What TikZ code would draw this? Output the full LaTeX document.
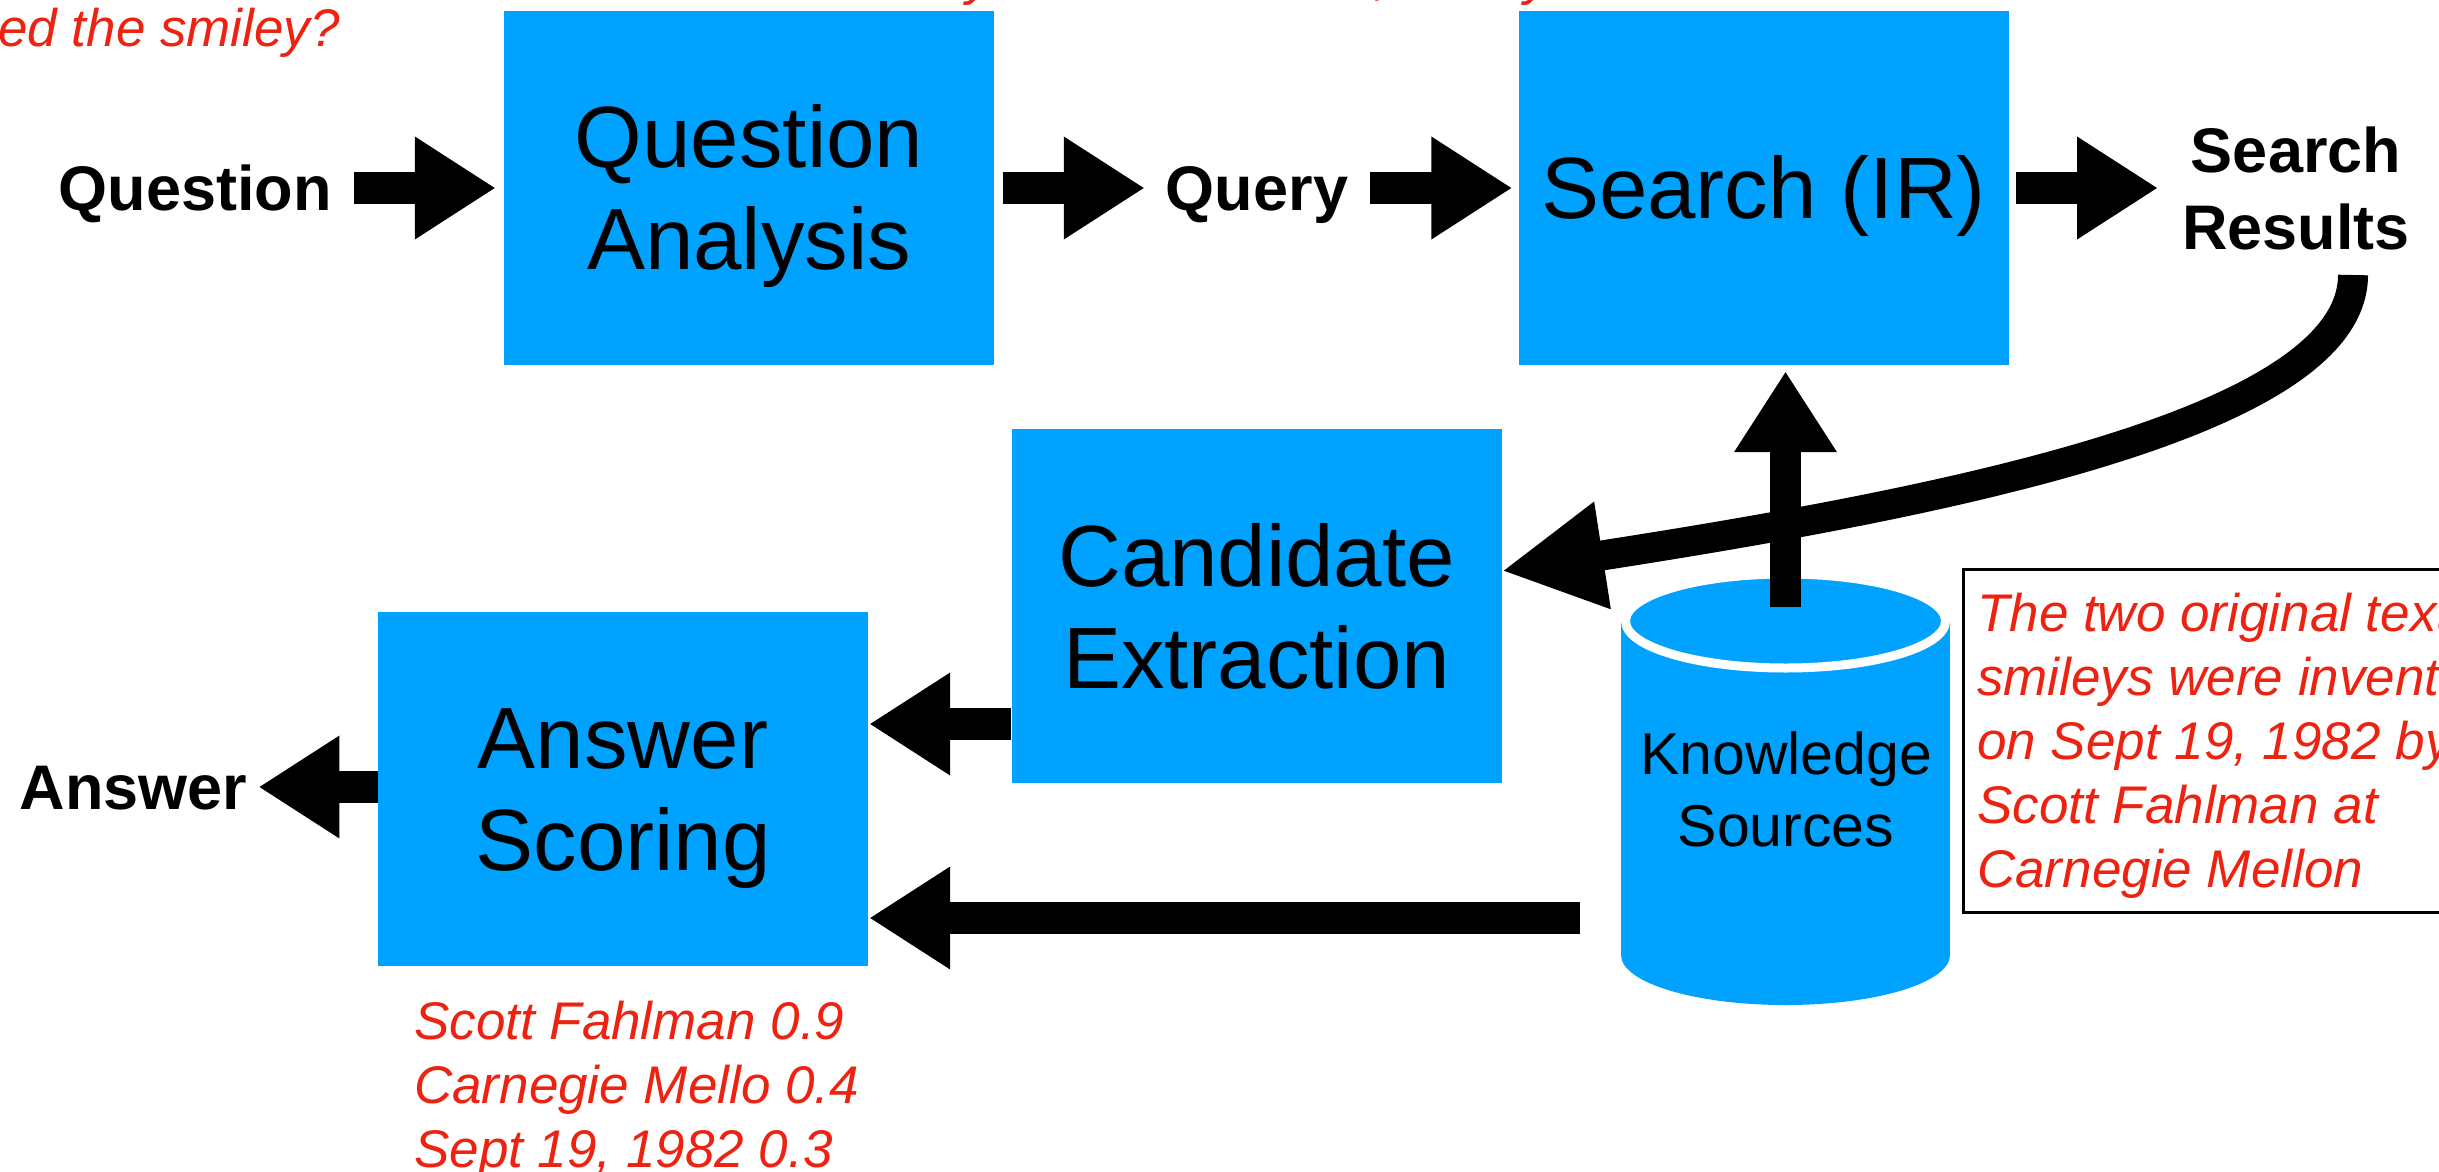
\documentclass[tikz,border=0pt]{standalone}
\usepackage{fontspec}
\setmainfont{Liberation Sans}
\usetikzlibrary{arrows.meta,calc}
\definecolor{boxblue}{RGB}{0,162,255}
\definecolor{notered}{RGB}{237,35,18}
\newcommand{\cs}{\rule[-0.2em]{0pt}{1.116em}}
\begin{document}
\begin{tikzpicture}[x=1pt,y=-1pt,
  blk/.style={line width=31.5pt,-{Triangle[length=81pt,width=97pt]}},
  box/.style={fill=boxblue,minimum width=490pt,minimum height=354pt,inner sep=0pt,align=center,font=\fontsize{87}{102}\selectfont},
  lbl/.style={inner sep=0pt,align=center,font=\bfseries\fontsize{63}{77}\selectfont},
  rednote/.style={inner sep=0pt,align=left,text=notered,font=\itshape\fontsize{53}{64}\selectfont}]
\useasboundingbox (0,0) rectangle (2439,1172);
\begin{scope}
\clip (0,0) rectangle (2439,1172);
% top red text (cut by the page edge)
\node[rednote,anchor=base west] (qtext) at (-2,47) {ed the smiley?};
\node[rednote,anchor=base west] (frag1) at (966,-5) {y};
\node[rednote,anchor=base west] (frag2) at (1374,-5) {,};
\node[rednote,anchor=base west] (frag3) at (1524,-5) {y};
% boxes
\node[box] (qa) at (749,188) {\cs Question\\\cs Analysis};
\node[box] (search) at (1763.5,188) {\cs Search (IR)};
\node[box] (ce) at (1256.5,606) {\cs Candidate\\\cs Extraction};
\node[box] (as) at (623,789) {\cs Answer\\\cs Scoring};
% labels
\node[lbl] (ql) at (195,188) {\cs Question};
\node[lbl] (query) at (1257,188) {\cs Query};
\node[lbl] (res) at (2296,188) {\cs Search\\\cs Results};
\node[lbl] (ans) at (133.5,787) {\cs Answer};
% knowledge sources cylinder
\fill[boxblue] (1621,621) rectangle (1950,955);
\fill[boxblue] (1785.5,955) ellipse [x radius=164.5pt,y radius=50pt];
\filldraw[fill=boxblue,draw=white,line width=9pt] (1785.5,621) ellipse [x radius=160pt,y radius=47pt];
\node[inner sep=0pt,align=center,font=\fontsize{59}{72}\selectfont] (ks) at (1786,789) {\cs Knowledge\\\cs Sources};
\coordinate (kstop) at (1785.5,607);
\coordinate (ksleft) at (1580,918);
% note box
\node[draw=black,line width=2.5pt,minimum width=560pt,minimum height=343pt,anchor=north west,inner sep=0pt] (note) at (1962,568) {};
\node[rednote,anchor=north west] (notetext) at (1977,582.5) {\cs The two original text\\ smileys were invented\\ on Sept 19, 1982 by\\ Scott Fahlman at\\ Carnegie Mellon\cs};
% scores
\node[rednote,anchor=north west] (scores) at (414,990.5) {\cs Scott Fahlman 0.9\\ Carnegie Mello 0.4\\ Sept 19, 1982 0.3\cs};
% arrows
\draw[blk] ($(ql.east)+(22,0)$) -- ($(qa.west)+(-8,0)$);
\draw[blk] ($(qa.east)+(9,0)$) -- ($(query.west)+(-21,0)$);
\draw[blk] ($(query.east)+(22,0)$) -- ($(search.west)+(-6,0)$);
\draw[blk] ($(search.east)+(7,0)$) -- ($(res.west)+(-24,0)$);
\coordinate (cstart) at (2353,275);
\draw[line width=30pt,-{Triangle[length=102pt,width=101pt]}] (cstart) .. controls (2353,420) and (1960,500) .. ($(ce.east)+(0,-35)$);
\draw[blk,shorten >=6pt] (kstop) -- (kstop |- search.south);
\draw[blk] ($(ce.west)+(0,118)$) -- ($(as.east)+(1,-65)$);
\draw[blk] (ksleft) -- ($(ksleft -| as.east)+(1,0)$);
\draw[blk] (as.west |- ans.east) -- ($(ans.east)+(11,0)$);
\end{scope}
\end{tikzpicture}
\end{document}
